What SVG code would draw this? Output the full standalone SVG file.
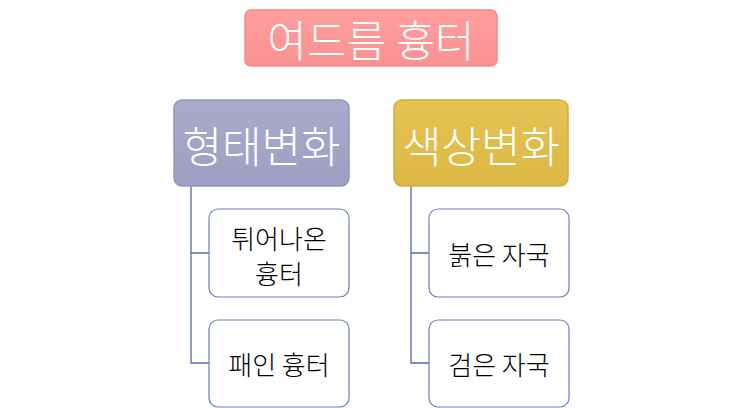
<svg xmlns="http://www.w3.org/2000/svg" width="743" height="408" viewBox="0 0 743 408">
<style>
.t{font-family:"Noto Sans CJK KR","Liberation Sans",sans-serif;text-anchor:middle;dominant-baseline:central}
.h{fill:#ffffff;font-size:43px;font-weight:300}
.c{fill:#000000;font-size:26px;font-weight:300}
.child{fill:#ffffff;stroke:#6b7fb8;stroke-width:1.2}
.conn{fill:none;stroke:#5468a8;stroke-width:1.3}
</style>
<defs>
<linearGradient id="gp" x1="0" y1="0" x2="0" y2="1"><stop offset="0" stop-color="#ff9e9e"/><stop offset="1" stop-color="#fb9191"/></linearGradient>
<linearGradient id="gl" x1="0" y1="0" x2="0" y2="1"><stop offset="0" stop-color="#aaaacb"/><stop offset="1" stop-color="#9e9ec3"/></linearGradient>
<linearGradient id="gg" x1="0" y1="0" x2="0" y2="1"><stop offset="0" stop-color="#e6c353"/><stop offset="1" stop-color="#dcb744"/></linearGradient>
</defs>
<rect width="743" height="408" fill="#ffffff"/>
<g id="connectors">
<path class="conn" d="M191 186 V363 H209 M191 253 H209"/>
<path class="conn" d="M411 186 V363 H429 M411 253 H429"/>
</g>
<g id="title">
<rect x="245" y="10" width="252" height="56" rx="6" fill="url(#gp)" stroke="#f08a8a" stroke-width="1.5"/>
<text class="t h" x="371" y="38">여드름 흉터</text>
</g>
<g id="shape">
<rect x="174" y="100" width="175" height="86" rx="8" fill="url(#gl)" stroke="#9696bb" stroke-width="1.5"/>
<text class="t h" x="261.5" y="144">형태변화</text>
</g>
<g id="color">
<rect x="394" y="100" width="174" height="86" rx="8" fill="url(#gg)" stroke="#d4ad3a" stroke-width="1.5"/>
<text class="t h" x="481" y="144">색상변화</text>
</g>
<g id="raised">
<rect class="child" x="209" y="209" width="140" height="88" rx="9"/>
<text class="t c" x="279" y="237">튀어나온</text>
<text class="t c" x="279" y="272">흉터</text>
</g>
<g id="pitted">
<rect class="child" x="209" y="320" width="140" height="87" rx="9"/>
<text class="t c" x="279" y="363">패인 흉터</text>
</g>
<g id="red">
<rect class="child" x="429" y="209" width="140" height="88" rx="9"/>
<text class="t c" x="499" y="253">붉은 자국</text>
</g>
<g id="dark">
<rect class="child" x="429" y="320" width="140" height="87" rx="9"/>
<text class="t c" x="499" y="363">검은 자국</text>
</g>
</svg>
